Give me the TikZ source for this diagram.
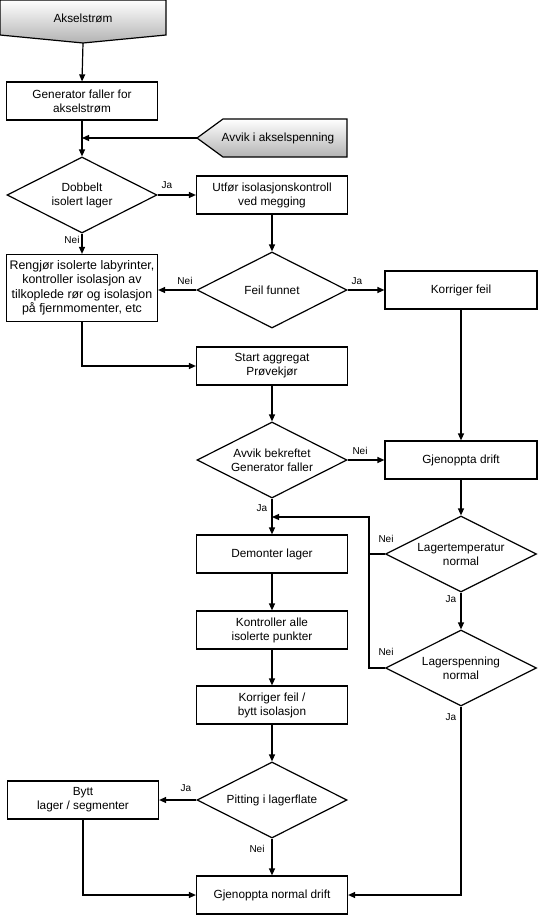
\documentclass[tikz,border=0pt]{standalone}
\usepackage{fontspec}
\setmainfont{Liberation Sans}
\usetikzlibrary{shapes.geometric, arrows.meta, positioning}

\begin{document}
\begin{tikzpicture}[
    x=1pt, y=-1pt,
    font=\fontsize{11.8}{14}\selectfont,
    block/.style={rectangle, draw=black, fill=white, line width=1.2pt, align=center, minimum width=151pt, minimum height=38pt, inner xsep=2pt, inner ysep=2pt},
    decision/.style={diamond, draw=black, fill=white, line width=1.2pt, align=center, minimum width=150pt, minimum height=76pt, inner sep=0pt, aspect=2},
    terminal/.style={draw=black, line width=1.2pt, top color=white, bottom color=gray!60},
    lbl/.style={font=\fontsize{10}{12}\selectfont, inner sep=0pt},
    arrow/.style={-{Triangle[length=7pt, width=6pt]}, line width=1.2pt, draw=black},
    link/.style={line width=1.2pt, draw=black}
]
    \useasboundingbox (0,0) rectangle (540,916);

    % start shapes
    \shadedraw[terminal] (0,0) -- (166,0) -- (166,35) -- (83,43) -- (0,35) -- cycle;
    \node (aks) at (83,18) {Akselstrøm};
    \coordinate (aksTip) at (83,43);
    \shadedraw[terminal] (197,138) -- (223,119) -- (347,119) -- (347,157) -- (223,157) -- cycle;
    \node (avvik) at (278,138) {Avvik i akselspenning};
    \coordinate (avvikTip) at (197,138);

    % left column
    \node[block] (gen) at (82,101) {Generator faller for\\ akselstrøm};
    \node[decision] (dobbelt) at (82,195) {Dobbelt\\ isolert lager};
    \node[block, minimum height=67pt, font=\fontsize{12.4}{14.5}\selectfont] (rengjor) at (82,288) {Rengjør isolerte labyrinter,\\ kontroller isolasjon av\\ tilkoplede rør og isolasjon\\ på fjernmomenter, etc};
    \node[block] (bytt) at (83,800) {Bytt\\ lager / segmenter};

    % middle column
    \node[block] (utfor) at (272,195) {Utfør isolasjonskontroll\\ ved megging};
    \node[decision] (feil) at (272,290) {Feil funnet};
    \node[block] (start) at (272,366) {Start aggregat\\ Prøvekjør};
    \node[decision] (bekreftet) at (272,460) {Avvik bekreftet\\ Generator faller};
    \node[block] (demont) at (272,554) {Demonter lager};
    \node[block] (kontr) at (272,630) {Kontroller alle\\ isolerte punkter};
    \node[block] (korrbytt) at (272,705) {Korriger feil /\\ bytt isolasjon};
    \node[decision] (pitting) at (272,800) {Pitting i lagerflate};
    \node[block] (normal) at (272,895) {Gjenoppta normal drift};

    % right column
    \node[block, minimum width=152pt] (korr) at (461,290) {Korriger feil};
    \node[block, minimum width=152pt] (gjen) at (461,460) {Gjenoppta drift};
    \node[decision, minimum width=151pt] (ltemp) at (461,554) {Lagertemperatur\\ normal};
    \node[decision, minimum width=151pt] (lspenn) at (461,668) {Lagerspenning\\ normal};

    % connectors
    \draw[arrow] (aksTip) -- (gen.north);
    \draw[arrow] (gen.south) -- (dobbelt.north);
    \draw[arrow] (avvikTip) -- (avvikTip -| dobbelt.north);
    \draw[arrow] (dobbelt.east) -- (utfor.west);
    \draw[arrow] (dobbelt.south) -- (rengjor.north);
    \draw[arrow] (utfor.south) -- (feil.north);
    \draw[arrow] (feil.west) -- (feil.west -| rengjor.east);
    \draw[arrow] (feil.east) -- (korr.west);
    \draw[arrow] (rengjor.south) |- (start.west);
    \draw[arrow] (start.south) -- (bekreftet.north);
    \draw[arrow] (bekreftet.east) -- (gjen.west);
    \draw[arrow] (korr.south) -- (gjen.north);
    \draw[arrow] (bekreftet.south) -- (demont.north);
    \draw[arrow] (gjen.south) -- (ltemp.north);
    \draw[arrow] (ltemp.south) -- (lspenn.north);
    \coordinate (loopTop) at (369,517);
    \draw[link] (ltemp.west) -- (ltemp.west -| loopTop);
    \draw[arrow] (lspenn.west) -| (loopTop) -- (loopTop -| demont.north);
    \draw[arrow] (demont.south) -- (kontr.north);
    \draw[arrow] (kontr.south) -- (korrbytt.north);
    \draw[arrow] (korrbytt.south) -- (pitting.north);
    \draw[arrow] (pitting.west) -- (bytt.east);
    \draw[arrow] (pitting.south) -- (normal.north);
    \draw[arrow] (bytt.south) |- (normal.west);
    \draw[arrow] (lspenn.south) |- (normal.east);

    % labels
    \node[lbl] (jaDobbelt) at (167,185) {Ja};
    \node[lbl] (neiDobbelt) at (72,240) {Nei};
    \node[lbl] (neiFeil) at (185,281) {Nei};
    \node[lbl] (jaFeil) at (357,281) {Ja};
    \node[lbl] (neiBekreftet) at (360,451) {Nei};
    \node[lbl] (jaBekreftet) at (262,508) {Ja};
    \node[lbl] (neiTemp) at (386,539) {Nei};
    \node[lbl] (jaTemp) at (451,599) {Ja};
    \node[lbl] (neiSpenn) at (386,652) {Nei};
    \node[lbl] (jaSpenn) at (451,717) {Ja};
    \node[lbl] (jaPitting) at (186,788) {Ja};
    \node[lbl] (neiPitting) at (257,849) {Nei};
\end{tikzpicture}
\end{document}
